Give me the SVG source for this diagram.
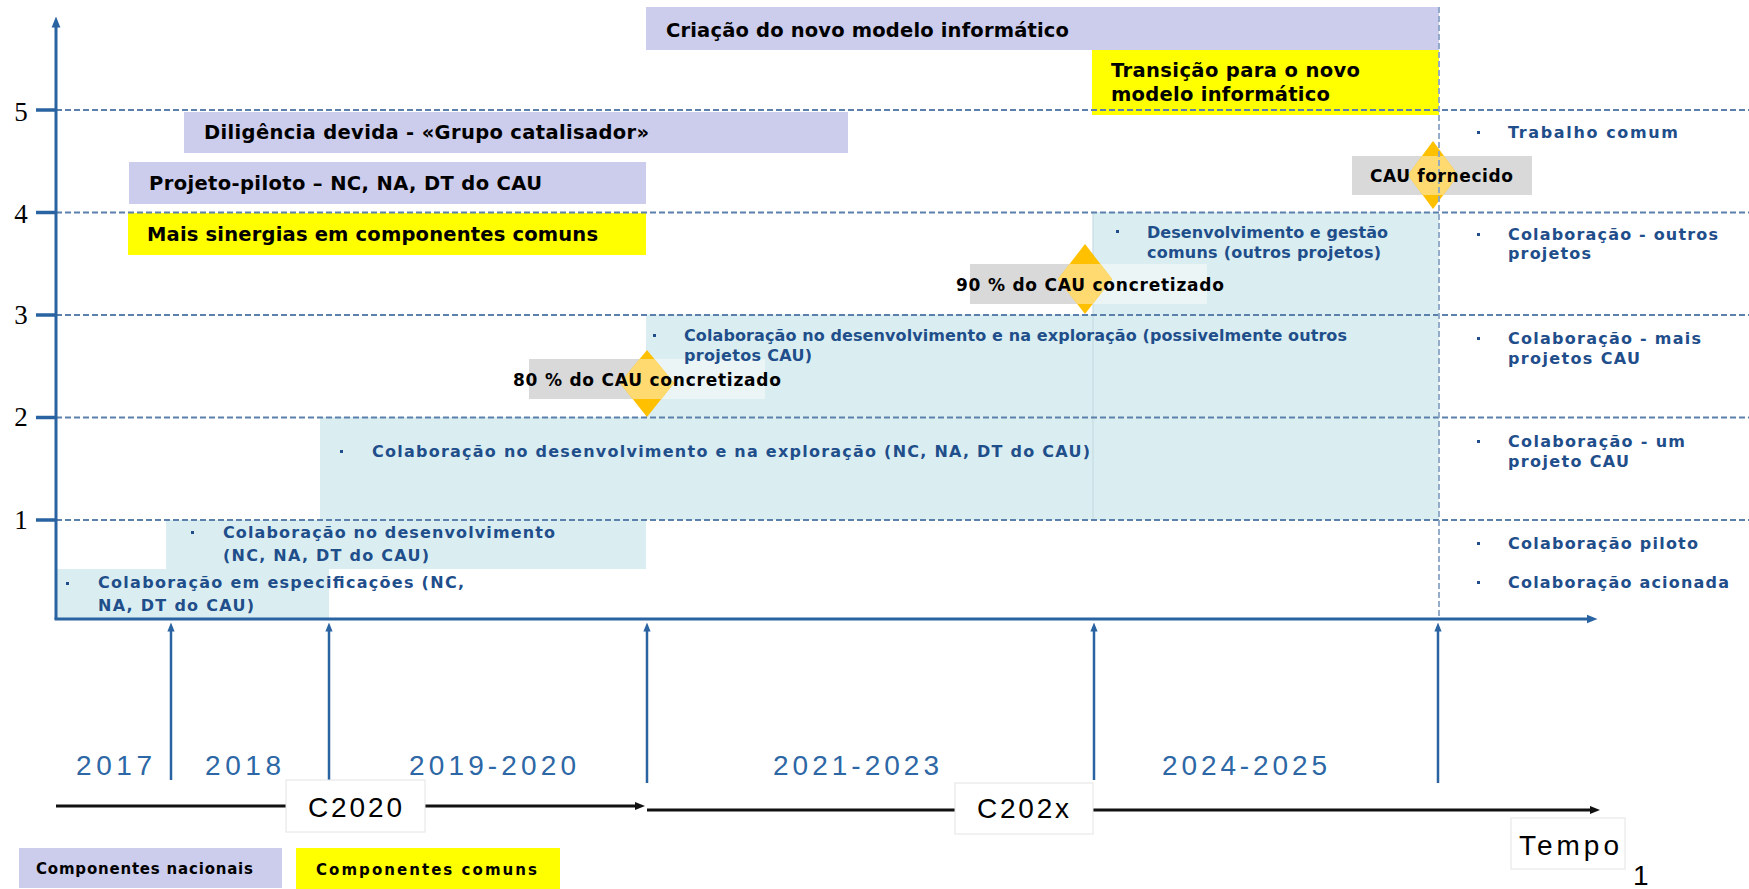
<svg xmlns="http://www.w3.org/2000/svg" width="1749" height="889" viewBox="0 0 1749 889">
<style>
.lbl{font-family:"DejaVu Sans",sans-serif;font-weight:bold;font-size:19.5px;fill:#000}
.tb{font-family:"DejaVu Sans",sans-serif;font-weight:bold;font-size:16px;fill:#1F4E8B}
.ms{font-family:"DejaVu Sans",sans-serif;font-weight:bold;font-size:17px;fill:#000}
.yr{font-family:"Liberation Sans",Arial,sans-serif;font-size:28px;fill:#2D67A5}
.tl{font-family:"Liberation Sans",Arial,sans-serif;font-size:28px;fill:#000}
.ax{font-family:"Liberation Serif","Times New Roman",serif;font-size:27px;fill:#000;text-anchor:middle}
.lg{font-family:"DejaVu Sans",sans-serif;font-weight:bold;font-size:15px;fill:#000}
.nat{fill:#CCCCEC}
.com{fill:#FFFF00}
.teal{fill:#DAEEF1}
.grey{fill:#D9D9D9}
.lite{fill:#ECF5F6}
.dia{fill:#FFC000}
.dial{fill:#FFDA70}
.grid{stroke:#5A80AB;stroke-width:2;stroke-dasharray:6 3;fill:none}
.vd{stroke:#8AA5C6;stroke-width:1.8;stroke-dasharray:6 3;fill:none}
.axis{stroke:#2A63A1;stroke-width:3;fill:none}
.tick{stroke:#2A63A1;stroke-width:3.5}
.tarr{stroke:#2A63A1;stroke-width:2.5;fill:none}
.blk{stroke:#111;stroke-width:3;fill:none}
.wbox{fill:#fff;stroke:#E4E4E4;stroke-width:1}
.bul{fill:#1F4E8B}
</style>
<defs>
<marker id="ab" markerUnits="userSpaceOnUse" viewBox="0 0 10 10" refX="5" refY="5" markerWidth="11" markerHeight="11" orient="auto">
<path d="M0,1 L10,5 L0,9 z" fill="#2A63A1"/>
</marker>
<marker id="as" markerUnits="userSpaceOnUse" viewBox="0 0 10 10" refX="5" refY="5" markerWidth="9" markerHeight="9" orient="auto">
<path d="M0,1 L10,5 L0,9 z" fill="#2A63A1"/>
</marker>
<marker id="ak" markerUnits="userSpaceOnUse" viewBox="0 0 10 10" refX="5" refY="5" markerWidth="10" markerHeight="10" orient="auto">
<path d="M0,1 L10,5 L0,9 z" fill="#111"/>
</marker>
<clipPath id="c80"><rect x="529" y="359" width="236" height="40"/></clipPath>
<clipPath id="c90"><rect x="970" y="264" width="237" height="40"/></clipPath>
<clipPath id="ccau"><rect x="1352" y="156" width="180" height="39"/></clipPath>
</defs>

<g id="collab-area">
<path class="teal" d="M56,619 V569 H166 V520 H320 V417 H646 V314.5 H1093 V212 H1439 V520 H646 V569 H329 V619 Z"/>
<line x1="1093" y1="212" x2="1093" y2="520" stroke="#C6DCE1" stroke-width="1.2"/>
</g>

<g id="box-criacao"><rect class="nat" x="646" y="7" width="793" height="43"/></g>
<g id="box-transicao"><rect class="com" x="1092" y="50" width="347" height="65"/></g>
<g id="box-diligencia"><rect class="nat" x="184" y="112" width="664" height="41"/></g>
<g id="box-piloto"><rect class="nat" x="129" y="162" width="517" height="42"/></g>
<g id="box-sinergias"><rect class="com" x="128" y="213" width="518" height="42"/></g>

<g id="milestone-80">
<rect class="grey" x="529" y="359" width="118" height="40"/>
<rect class="lite" x="647" y="359" width="118" height="40"/>
<polygon class="dia" points="647,350 674,383 647,417 620,383"/>
<polygon class="dial" points="647,350 674,383 647,417 620,383" clip-path="url(#c80)"/>
</g>
<g id="milestone-90">
<rect class="grey" x="970" y="264" width="123" height="40"/>
<rect class="lite" x="1093" y="264" width="114" height="40"/>
<polygon class="dia" points="1085,244 1112,279 1085,314 1058,279"/>
<polygon class="dial" points="1085,244 1112,279 1085,314 1058,279" clip-path="url(#c90)"/>
</g>
<g id="milestone-cau">
<rect class="grey" x="1352" y="156" width="180" height="39"/>
<polygon class="dia" points="1433,141 1458,175 1433,209 1408,175"/>
<polygon class="dial" points="1433,141 1458,175 1433,209 1408,175" clip-path="url(#ccau)"/>
</g>

<g id="grid">
<line class="grid" x1="56" y1="110" x2="1749" y2="110"/>
<line class="grid" x1="56" y1="212.5" x2="1749" y2="212.5"/>
<line class="grid" x1="56" y1="315" x2="1749" y2="315"/>
<line class="grid" x1="56" y1="417.5" x2="1749" y2="417.5"/>
<line class="grid" x1="56" y1="520" x2="1749" y2="520"/>
<line class="vd" x1="1439" y1="7" x2="1439" y2="619"/>
<line class="tick" x1="36" y1="110" x2="56" y2="110"/>
<line class="tick" x1="36" y1="212.5" x2="56" y2="212.5"/>
<line class="tick" x1="36" y1="315" x2="56" y2="315"/>
<line class="tick" x1="36" y1="417.5" x2="56" y2="417.5"/>
<line class="tick" x1="36" y1="520" x2="56" y2="520"/>
<text class="ax" x="21" y="121">5</text>
<text class="ax" x="21" y="223">4</text>
<text class="ax" x="21" y="324">3</text>
<text class="ax" x="21" y="426">2</text>
<text class="ax" x="21" y="529">1</text>
</g>

<g id="connectors">
<line class="axis" x1="56" y1="619" x2="56" y2="22" marker-end="url(#ab)"/>
<line class="axis" x1="54.5" y1="619" x2="1592" y2="619" marker-end="url(#ab)"/>
<line class="tarr" x1="171" y1="780" x2="171" y2="627" marker-end="url(#as)"/>
<line class="tarr" x1="329" y1="780" x2="329" y2="627" marker-end="url(#as)"/>
<line class="tarr" x1="647" y1="783" x2="647" y2="627" marker-end="url(#as)"/>
<line class="tarr" x1="1094" y1="780" x2="1094" y2="627" marker-end="url(#as)"/>
<line class="tarr" x1="1438" y1="783" x2="1438" y2="627" marker-end="url(#as)"/>
<line class="blk" x1="56" y1="806" x2="640" y2="806" marker-end="url(#ak)"/>
<line class="blk" x1="647" y1="810" x2="1595" y2="810" marker-end="url(#ak)"/>
</g>

<g id="texts-boxes">
<text class="lbl" x="666" y="37" textLength="403">Criação do novo modelo informático</text>
<text class="lbl" x="1111" y="77" textLength="249">Transição para o novo</text>
<text class="lbl" x="1111" y="101" textLength="219">modelo informático</text>
<text class="lbl" x="204" y="139" textLength="445">Diligência devida - «Grupo catalisador»</text>
<text class="lbl" x="149" y="190" textLength="393">Projeto-piloto – NC, NA, DT do CAU</text>
<text class="lbl" x="147" y="241" textLength="451">Mais sinergias em componentes comuns</text>
</g>

<g id="texts-collab">
<rect class="bul" x="66" y="582" width="3" height="3"/>
<text class="tb" x="98" y="588" textLength="366">Colaboração em especificações (NC,</text>
<text class="tb" x="98" y="611" textLength="156">NA, DT do CAU)</text>
<rect class="bul" x="191" y="531" width="3" height="3"/>
<text class="tb" x="223" y="538" textLength="332">Colaboração no desenvolvimento</text>
<text class="tb" x="223" y="561" textLength="206">(NC, NA, DT do CAU)</text>
<rect class="bul" x="340" y="450" width="3" height="3"/>
<text class="tb" x="372" y="457" textLength="718">Colaboração no desenvolvimento e na exploração (NC, NA, DT do CAU)</text>
<rect class="bul" x="653" y="334" width="3" height="3"/>
<text class="tb" x="684" y="341" textLength="663">Colaboração no desenvolvimento e na exploração (possivelmente outros</text>
<text class="tb" x="684" y="361" textLength="128">projetos CAU)</text>
<rect class="bul" x="1116" y="230" width="3" height="3"/>
<text class="tb" x="1147" y="238" textLength="241">Desenvolvimento e gestão</text>
<text class="tb" x="1147" y="258" textLength="234">comuns (outros projetos)</text>
</g>

<g id="texts-milestones">
<text class="ms" x="513" y="386" textLength="268">80 % do CAU concretizado</text>
<text class="ms" x="956" y="291" textLength="268">90 % do CAU concretizado</text>
<text class="ms" x="1370" y="182" textLength="143">CAU fornecido</text>
</g>

<g id="legend-right">
<rect class="bul" x="1477" y="131" width="3" height="3"/>
<text class="tb" x="1508" y="138" textLength="170">Trabalho comum</text>
<rect class="bul" x="1477" y="233" width="3" height="3"/>
<text class="tb" x="1508" y="240" textLength="210">Colaboração - outros</text>
<text class="tb" x="1508" y="259" textLength="83">projetos</text>
<rect class="bul" x="1477" y="337" width="3" height="3"/>
<text class="tb" x="1508" y="344" textLength="193">Colaboração - mais</text>
<text class="tb" x="1508" y="364" textLength="132">projetos CAU</text>
<rect class="bul" x="1477" y="440" width="3" height="3"/>
<text class="tb" x="1508" y="447" textLength="177">Colaboração - um</text>
<text class="tb" x="1508" y="467" textLength="121">projeto CAU</text>
<rect class="bul" x="1477" y="542" width="3" height="3"/>
<text class="tb" x="1508" y="549" textLength="190">Colaboração piloto</text>
<rect class="bul" x="1477" y="581" width="3" height="3"/>
<text class="tb" x="1508" y="588" textLength="221">Colaboração acionada</text>
</g>

<g id="years">
<text class="yr" x="76" y="775" textLength="76">2017</text>
<text class="yr" x="205" y="775" textLength="76">2018</text>
<text class="yr" x="409" y="775" textLength="167">2019-2020</text>
<text class="yr" x="773" y="775" textLength="166">2021-2023</text>
<text class="yr" x="1162" y="775" textLength="165">2024-2025</text>
</g>

<g id="label-c2020">
<rect class="wbox" x="286" y="780" width="139" height="52"/>
<text class="tl" x="308" y="817" textLength="94">C2020</text>
</g>
<g id="label-c202x">
<rect class="wbox" x="955" y="783" width="138" height="51"/>
<text class="tl" x="977" y="818" textLength="92">C202x</text>
</g>
<g id="label-tempo">
<rect class="wbox" x="1511" y="818" width="114" height="51"/>
<text class="tl" x="1519" y="855" textLength="100">Tempo</text>
</g>
<g id="page-number">
<text class="tl" x="1633" y="885" font-size="28">1</text>
</g>

<g id="legend">
<rect class="nat" x="19" y="848" width="263" height="40"/>
<text class="lg" x="36" y="874" textLength="217">Componentes nacionais</text>
<rect class="com" x="296" y="848" width="264" height="41"/>
<text class="lg" x="316" y="875" textLength="221">Componentes comuns</text>
</g>
</svg>
